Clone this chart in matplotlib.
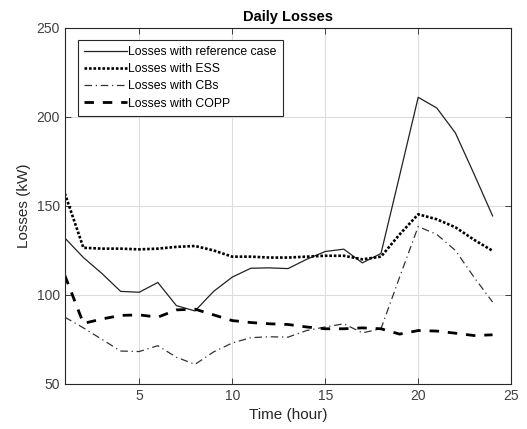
import matplotlib
matplotlib.use('Agg')
import matplotlib.pyplot as plt

plt.rcParams['font.family'] = ['Liberation Sans', 'DejaVu Sans']

# 时间轴（小时）
hours = list(range(1, 25))

# 各方案损耗 (kW)
loss_ref = [132, 121, 112, 102, 101.5, 107, 94, 91, 102, 110, 115, 115.2,
            114.8, 120, 124.4, 125.7, 118, 123.3, 167, 211, 205, 191, 168, 144.4]
loss_ess = [157, 126.5, 126, 126, 125.6, 126, 127, 127.5, 125, 121.5, 121.5, 121,
            121, 121.5, 122, 122, 120, 121.5, 134, 145.3, 142.5, 138, 131, 124.8]
loss_cbs = [87.5, 81.5, 75, 68.5, 68.2, 71.5, 65, 61, 68, 73, 76, 76.5,
            76.3, 80, 82, 83.8, 78.7, 81, 110, 138.4, 134, 125, 110, 96]
loss_copp = [111, 84, 86.5, 88.5, 88.8, 87.5, 91.6, 92, 88.8, 85.6, 84.5, 83.8,
             83.4, 82, 81, 81, 81.5, 81, 78, 80, 79.7, 78.5, 77.2, 77.6]

fig = plt.figure(figsize=(5.27, 4.29), dpi=100)
ax = fig.add_axes([0.123, 0.105, 0.847, 0.830])

ax.plot(hours, loss_ref, color='#222222', lw=0.9, ls='-', label='Losses with reference case')
ax.plot(hours, loss_ess, color='black', lw=1.9, ls=(0, (1, 0.7)), label='Losses with ESS')
ax.plot(hours, loss_cbs, color='#333333', lw=0.9, ls=(0, (6, 3, 1, 3)), label='Losses with CBs')
ax.plot(hours, loss_copp, color='black', lw=2.0, ls=(0, (3.4, 3.2)), label='Losses with COPP')

ax.set_xlim(1, 25)
ax.set_ylim(50, 250)
ax.set_xticks([5, 10, 15, 20, 25])
ax.set_yticks([50, 100, 150, 200, 250])
ax.grid(True, color='#dddddd', lw=0.8)
ax.set_axisbelow(True)
ax.tick_params(direction='in', top=True, right=True, labelsize=10, colors='#262626',
               labelcolor='#404040', length=4, width=0.6)
for s in ax.spines.values():
    s.set_color('#262626')
    s.set_linewidth(0.8)

ax.set_title('Daily Losses', fontsize=10.5, fontweight='bold', pad=5)
ax.set_xlabel('Time (hour)', fontsize=11, color='#262626')
ax.set_ylabel('Losses (kW)', fontsize=11, color='#262626')

leg = ax.legend(loc='upper left', bbox_to_anchor=(0.029, 0.966), fontsize=8.8,
                handlelength=3.5, handletextpad=0.15, labelspacing=0.42,
                borderpad=0.5, borderaxespad=0.0, fancybox=False, framealpha=1,
                edgecolor='#262626')
leg.get_frame().set_linewidth(0.8)

plt.savefig('out.png', dpi=100)
plt.close()
